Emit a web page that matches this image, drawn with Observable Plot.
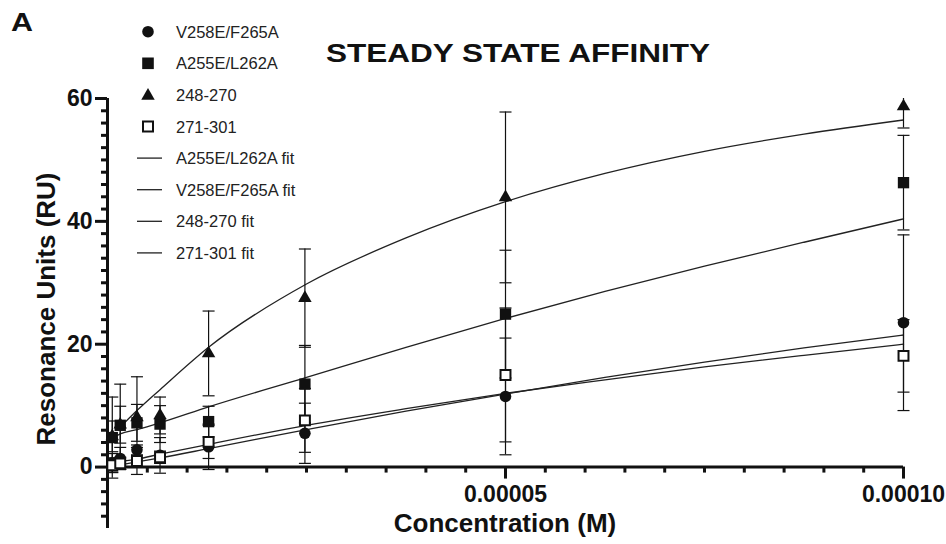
<!DOCTYPE html>
<html><head><meta charset="utf-8">
<script src="https://cdn.jsdelivr.net/npm/d3@7"></script>
<script src="https://cdn.jsdelivr.net/npm/@observablehq/plot@0.6"></script>
<style>
html,body{margin:0;padding:0;background:#fff;}
#wrap{position:relative;width:946px;height:544px;font-family:"Liberation Sans",Arial,sans-serif;}
#wrap > svg{position:absolute;left:0;top:0;}
</style></head><body><div id="wrap"></div>
<script>
// ---- data ----
const concentrationsM = [0.6e-6, 1.6e-6, 3.7e-6, 6.6e-6, 12.7e-6, 24.8e-6, 50e-6, 100e-6];
const seriesNames = ["V258E/F265A", "A255E/L262A", "248-270", "271-301"];
const v258Mean = [0.7, 1.4, 2.8, 1.9, 3.3, 5.5, 11.5, 23.5];
const v258SD   = [1.5, 1.8, 0.8, 2.9, 3.7, 4.9, 9.5, 14.3];
const a255Mean = [4.8, 6.8, 7.2, 7.0, 7.4, 13.5, 24.9, 46.3];
const a255SD   = [6.6, 6.7, 3.0, 3.0, 2.5, 6.3, 10.4, 7.7];
const p248Mean = [5.0, 6.9, 8.1, 8.4, 18.5, 27.5, 43.9, 58.7];
const p248SD   = [2.5, 3.0, 6.6, 3.0, 6.9, 8.0, 13.9, 3.5];
const p271Mean = [0.3, 0.6, 1.0, 1.6, 4.1, 7.6, 15.0, 18.1];
const p271SD   = [1.2, 1.0, 2.2, 1.0, 2.7, 5.2, 10.9, 5.9];

// fitted curves
const fitConcM     = [0.6e-6, 1.6e-6, 3.7e-6, 6.6e-6, 12.7e-6, 25e-6, 37.5e-6, 50e-6, 62.5e-6, 75e-6, 87.5e-6, 100e-6];
const a255Fit      = [4.7, 5.4, 6.1, 7.2, 9.8, 14.6, 19.5, 24.2, 28.6, 32.7, 36.6, 40.4];
const v258Fit      = [0.1, 0.35, 0.85, 1.5, 3.0, 6.1, 9.1, 11.9, 14.6, 17.1, 19.4, 21.5];
const p248Fit      = [null, 6.5, 9.2, 12.6, 19.5, 29.8, 37.3, 43.2, 47.8, 51.4, 54.2, 56.5];
const p271Fit      = [0.7, 0.9, 1.3, 2.1, 3.7, 6.8, 9.5, 12.0, 14.2, 16.3, 18.2, 20.0];
const fitNames     = ["A255E/L262A fit", "V258E/F265A fit", "248-270 fit", "271-301 fit"];

// axes
const xMajorTicks = [5e-5, 1e-4];
const xTickLabels = ["0.00005", "0.00010"];
const xMinorTicks = [5e-6,10e-6,15e-6,20e-6,25e-6,30e-6,35e-6,40e-6,45e-6,55e-6,60e-6,65e-6,70e-6,75e-6,80e-6,85e-6,90e-6,95e-6];
const yMajorTicks = [0, 20, 40, 60];
const yMinorTicks = [-8,-6,-4,-2,2,4,6,8,10,12,14,16,18,22,24,26,28,30,32,34,36,38,42,44,46,48,50,52,54,56,58];
const xDomain = [0, 1e-4];
const yDomain = [-10, 60];
const titleText = "STEADY STATE AFFINITY";
const xLabel = "Concentration (M)";
const yLabel = "Resonance Units (RU)";
const panelLabel = "A";

// ---- build tables ----
const means = [v258Mean, a255Mean, p248Mean, p271Mean];
const sds = [v258SD, a255SD, p248SD, p271SD];
const rows = [];
seriesNames.forEach((name, s) => {
  concentrationsM.forEach((c, i) => {
    const m = means[s][i], e = sds[s][i];
    rows.push({series: name, x: c, y: m, lo: m - e, hi: m + e});
  });
});
const fitVals = [a255Fit, v258Fit, p248Fit, p271Fit];
const fitRows = [];
fitNames.forEach((name, s) => {
  fitConcM.forEach((c, i) => { if (fitVals[s][i] != null) fitRows.push({fit: name, x: c, y: fitVals[s][i]}); });
});

const W = 946, H = 544, mt = 98, mb = 16, ml = 107, mr = 43;
const yPix = d3.scaleLinear(yDomain, [H - mb, mt]);
const xAxisDy = yPix(0) - (H - mb);

const capSymbol = {draw(ctx, size) { const r = Math.sqrt(size / Math.PI); ctx.moveTo(-r, 0); ctx.lineTo(r, 0); }};
const ink = "#111";
const symbolStyle = {
  "V258E/F265A": {symbol: "circle", r: 5.8, fill: ink, stroke: "none"},
  "A255E/L262A": {symbol: "square", r: 6.4, fill: ink, stroke: "none"},
  "248-270": {symbol: "triangle", r: 5.0, fill: ink, stroke: "none"},
  "271-301": {symbol: "square", r: 5.6, fill: "white", stroke: ink}
};

const plot = Plot.plot({
  width: W, height: H,
  marginTop: mt, marginBottom: mb, marginLeft: ml, marginRight: mr,
  style: {fontFamily: "'Liberation Sans', Arial, sans-serif", background: "transparent", overflow: "visible", color: ink},
  x: {domain: xDomain},
  y: {domain: yDomain},
  marks: [
    // fits
    Plot.line(fitRows, {x: "x", y: "y", z: "fit", stroke: "#222", strokeWidth: 1.3, curve: "monotone-x"}),
    // error bars
    Plot.ruleX(rows, {x: "x", y1: "lo", y2: d => Math.min(d.hi, yDomain[1]), stroke: ink, strokeWidth: 1.2}),
    Plot.dot(rows.filter(d => d.hi <= yDomain[1]), {x: "x", y: "hi", symbol: capSymbol, r: 6, stroke: ink, strokeWidth: 1.2, fill: "none"}),
    Plot.dot(rows, {x: "x", y: "lo", symbol: capSymbol, r: 6, stroke: ink, strokeWidth: 1.2, fill: "none"}),
    // axes
    Plot.ruleY([0], {stroke: ink, strokeWidth: 3}),
    Plot.ruleX([0], {stroke: ink, strokeWidth: 3}),
    Plot.axisY(yMajorTicks, {anchor: "left", tickSize: 12, tickPadding: 3, strokeWidth: 3, fontSize: 23, fontWeight: "bold", fill: ink, stroke: ink, label: null}),
    Plot.axisY(yMinorTicks, {anchor: "left", tickSize: 6, strokeWidth: 3, tickFormat: () => "", stroke: ink, label: null}),
    Plot.axisX(xMajorTicks, {anchor: "bottom", dy: xAxisDy, tickSize: 12, tickPadding: 7, strokeWidth: 3, fontSize: 23, fontWeight: "bold", fill: ink, stroke: ink, tickFormat: (d) => xTickLabels[xMajorTicks.indexOf(d)], label: null}),
    Plot.axisX(xMinorTicks, {anchor: "bottom", dy: xAxisDy, tickSize: 6, strokeWidth: 3, tickFormat: () => "", stroke: ink, label: null}),
    // symbols
    ...seriesNames.map(name => {
      const st = symbolStyle[name];
      return Plot.dot(rows.filter(d => d.series === name), {x: "x", y: "y", symbol: st.symbol, r: st.r, fill: st.fill, stroke: st.stroke, strokeWidth: 2});
    })
  ]
});
const wrap = document.getElementById("wrap");
wrap.appendChild(plot);

// ---- overlay: title, axis titles, legend ----
const svg = d3.select(wrap).append("svg").attr("width", W).attr("height", H)
  .style("font-family", "'Liberation Sans', Arial, sans-serif").style("overflow", "visible");

svg.append("text").text(panelLabel).attr("x", 11).attr("y", 31).attr("font-size", 25).attr("font-weight", "bold").attr("fill", ink)
  .attr("textLength", 22).attr("lengthAdjust", "spacingAndGlyphs");
svg.append("text").text(titleText).attr("x", 518).attr("y", 62).attr("text-anchor", "middle")
  .attr("font-size", 26).attr("font-weight", "bold").attr("fill", ink)
  .attr("textLength", 384).attr("lengthAdjust", "spacingAndGlyphs");
svg.append("text").text(xLabel).attr("x", (ml + W - mr) / 2).attr("y", 532).attr("text-anchor", "middle")
  .attr("font-size", 26).attr("font-weight", "bold").attr("fill", ink);
svg.append("text").text(yLabel).attr("transform", `translate(55,${(mt + H - mb) / 2 - 4}) rotate(-90)`).attr("text-anchor", "middle")
  .attr("font-size", 26).attr("font-weight", "bold").attr("fill", ink);

const legendItems = [
  {label: seriesNames[0], kind: "circle"},
  {label: seriesNames[1], kind: "square"},
  {label: seriesNames[2], kind: "triangle"},
  {label: seriesNames[3], kind: "open"},
  {label: fitNames[0], kind: "line"},
  {label: fitNames[1], kind: "line"},
  {label: fitNames[2], kind: "line"},
  {label: fitNames[3], kind: "line"}
];
const legendY0 = 31.7, legendStep = 31.6, symX = 148, textX = 176;
legendItems.forEach((it, i) => {
  const cy = legendY0 + i * legendStep;
  const g = svg.append("g");
  if (it.kind === "circle") g.append("circle").attr("cx", symX).attr("cy", cy).attr("r", 5.8).attr("fill", ink);
  else if (it.kind === "square") g.append("rect").attr("x", symX - 5.8).attr("y", cy - 5.8).attr("width", 11.6).attr("height", 11.6).attr("fill", ink);
  else if (it.kind === "triangle") g.append("path").attr("d", d3.symbol(d3.symbolTriangle, Math.PI * 5 * 5)()).attr("transform", `translate(${symX},${cy + 1})`).attr("fill", ink);
  else if (it.kind === "open") g.append("rect").attr("x", symX - 5).attr("y", cy - 5).attr("width", 10).attr("height", 10).attr("fill", "white").attr("stroke", ink).attr("stroke-width", 2);
  else g.append("line").attr("x1", 137).attr("x2", 162).attr("y1", cy).attr("y2", cy).attr("stroke", "#222").attr("stroke-width", 1.3);
  g.append("text").text(it.label).attr("x", textX).attr("y", cy + 6).attr("font-size", 16.5).attr("fill", "#222");
});
</script></body></html>
